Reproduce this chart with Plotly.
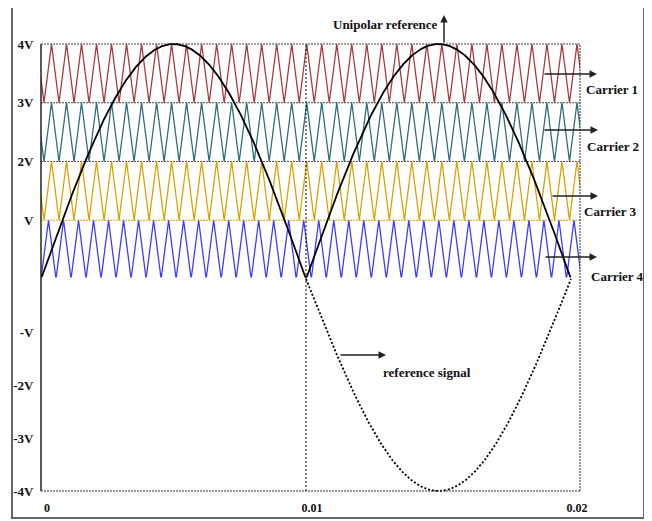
import numpy as np
import plotly.graph_objects as go

# ---------------- data ----------------
carrier_names = ["Carrier 1", "Carrier 2", "Carrier 3", "Carrier 4"]
carrier_low = [3, 2, 1, 0]
carrier_high = [4, 3, 2, 1]
carrier_colors = ["#a8393a", "#2c6c7c", "#d8a200", "#3c3cff"]
carrier_phase = [0.2, 0.2, 0.2, 0.0]     # first trough, as fraction of a period
carrier_freq_hz = 1765
ref_amp = 4
ref_freq_hz = 50
t_ref_end = 0.02
x_max = 0.02034

pos_tickvals = [1, 2, 3, 4]
pos_ticktext = ["V", "2V", "3V", "4V"]
neg_tickvals = [-4, -3, -2, -1]
neg_ticktext = ["-4V", "-3V", "-2V", "-V"]
x_tickvals = [0, 0.01, 0.02]
x_ticktext = ["0", "0.01", "0.02"]

pos_levels = [4, 3, 2, 1, 0]
pos_level_colors = ["#444444", "#444444", "#555555", "#d8a200", "#5555ff"]
neg_levels = [-1, -2, -3]

# ---------------- geometry (page pixels, page has an 8px body margin) ----------------
OX, OY = 8, 8
W, H = 652 - OX, 521 - OY
PL, PR, PT, PB = 41, 580, 42, 494          # plot area in page pixels
ml, mt = PL - OX, PT - OY
mr = W - (PR - OX)
mb = H - (PB - OY)
plot_h = PB - PT
pw = PR - PL
pad = 0.03
ppu_pos = (279 - 44) / 4.0
ppu_neg = (491 - 279) / 4.0


def frac(py):
    return (PB - py) / plot_h


def px_x(px):
    return (px - PL) / pw


font_fam = "Liberation Serif, Times New Roman, serif"

fig = go.Figure()

# carriers (triangle waves between band limits)
T = 1.0 / carrier_freq_hz
n_per = int(np.ceil(x_max / T)) + 2
for name, lo, hi, col, ph in zip(carrier_names, carrier_low, carrier_high,
                                 carrier_colors, carrier_phase):
    k = np.arange(-1, n_per)
    tt = np.empty(2 * len(k))
    yy = np.empty(2 * len(k))
    tt[0::2] = (k + ph) * T
    tt[1::2] = (k + ph + 0.5) * T
    yy[0::2] = lo
    yy[1::2] = hi
    fig.add_trace(go.Scatter(x=tt, y=yy, mode="lines", name=name,
                             line=dict(color=col, width=1.3),
                             xaxis="x", yaxis="y", showlegend=False,
                             hoverinfo="skip"))

# unipolar reference
t = np.linspace(0, t_ref_end, 1201)
fig.add_trace(go.Scatter(x=t, y=ref_amp * np.abs(np.sin(2 * np.pi * ref_freq_hz * t)),
                         mode="lines", name="Unipolar reference",
                         line=dict(color="#000000", width=1.8),
                         xaxis="x", yaxis="y", showlegend=False))

# reference signal (negative half, dotted)
t2 = np.linspace(0.01, t_ref_end, 601)
fig.add_trace(go.Scatter(x=t2, y=ref_amp * np.sin(2 * np.pi * ref_freq_hz * t2),
                         mode="lines", name="reference signal",
                         line=dict(color="#000000", width=1.8, dash="2px,2px"),
                         xaxis="x", yaxis="y2", showlegend=False))

shapes = []
for lv, c in zip(pos_levels, pos_level_colors):
    dash = "2px,4px" if lv == 0 else "2px,1px"
    shapes.append(dict(type="line", xref="paper", yref="y", x0=0, x1=1, y0=lv, y1=lv,
                       line=dict(color=c, width=1, dash=dash), layer="below"))
for lv in neg_levels:
    shapes.append(dict(type="line", xref="paper", yref="y2", x0=0, x1=1, y0=lv, y1=lv,
                       line=dict(color="#777777", width=1, dash="1px,5px"), layer="below"))
shapes.append(dict(type="line", xref="paper", yref="y2", x0=0, x1=1, y0=-4, y1=-4,
                   line=dict(color="#333333", width=1, dash="2px,1px")))
y_top_paper = frac(44)
y_bot_paper = frac(491)
shapes.append(dict(type="line", xref="x", yref="paper", x0=0.01, x1=0.01,
                   y0=y_bot_paper, y1=y_top_paper,
                   line=dict(color="#111111", width=1, dash="2px,2px")))
shapes.append(dict(type="line", xref="paper", yref="paper", x0=1, x1=1,
                   y0=y_bot_paper, y1=y_top_paper,
                   line=dict(color="#333333", width=1, dash="2px,1px")))
shapes.append(dict(type="line", xref="paper", yref="paper", x0=0, x1=0,
                   y0=y_bot_paper, y1=y_top_paper,
                   line=dict(color="#222222", width=1.5)))
# outer frame
shapes.append(dict(type="rect", xref="paper", yref="paper",
                   x0=px_x(12), x1=px_x(644), y0=frac(518), y1=frac(3),
                   line=dict(color="#666666", width=2), fillcolor="rgba(0,0,0,0)"))

annotations = []
lab_font = dict(family=font_fam, size=13, color="#111111", weight="bold")
arrows = [(444, 15, 444, 44), (597, 74, 543, 74), (598, 130, 543, 130),
          (598, 196, 551, 196), (597, 257, 544, 257), (386, 355, 339, 355)]
for hx, hy, tx, ty in arrows:
    annotations.append(dict(xref="paper", yref="paper", x=px_x(hx), y=frac(hy),
                            ax=tx - hx, ay=ty - hy, text="", showarrow=True,
                            arrowhead=2, arrowsize=1, arrowwidth=1.5,
                            arrowcolor="#222222"))
labels = [("Unipolar reference", 385, 24), ("Carrier 1", 612, 89),
          ("Carrier 2", 613, 146), ("Carrier 3", 610, 211),
          ("Carrier 4", 617, 276), ("reference signal", 427, 372)]
for txt, cx, cy in labels:
    annotations.append(dict(xref="paper", yref="paper", x=px_x(cx), y=frac(cy),
                            text=txt, showarrow=False, font=lab_font,
                            xanchor="center", yanchor="middle"))

tick_font = dict(family=font_fam, size=13, color="#111111", weight="bold")

fig.update_layout(
    width=W, height=H, autosize=False,
    margin=dict(l=ml, r=mr, t=mt, b=mb, pad=0, autoexpand=False),
    paper_bgcolor="white", plot_bgcolor="white",
    showlegend=False,
    xaxis=dict(range=[0, x_max], anchor="y2", showgrid=False, zeroline=False,
               showline=False, tickvals=x_tickvals, ticktext=x_ticktext,
               tickfont=dict(family=font_fam, size=12, color="#111111", weight="bold"),
               ticks="outside", ticklen=4, tickcolor="rgba(0,0,0,0)",
               ticklabelshift=6, automargin=False),
    yaxis=dict(range=[-pad, 4 + pad], anchor="x", showgrid=False, zeroline=False,
               showline=False, tickvals=pos_tickvals, ticktext=pos_ticktext,
               tickfont=tick_font, ticks="outside", ticklen=4,
               tickcolor="rgba(0,0,0,0)", automargin=False,
               domain=[frac(279 + pad * ppu_pos), min(1, frac(44 - pad * ppu_pos))]),
    yaxis2=dict(range=[-4 - pad, pad], anchor="x", showgrid=False, zeroline=False,
                showline=False, tickvals=neg_tickvals, ticktext=neg_ticktext,
                tickfont=tick_font, ticks="outside", ticklen=4,
                tickcolor="rgba(0,0,0,0)", automargin=False,
                domain=[max(0, frac(491 + pad * ppu_neg)), frac(279 - pad * ppu_neg)]),
    shapes=shapes,
    annotations=annotations,
)

fig.write_html("out.html")
